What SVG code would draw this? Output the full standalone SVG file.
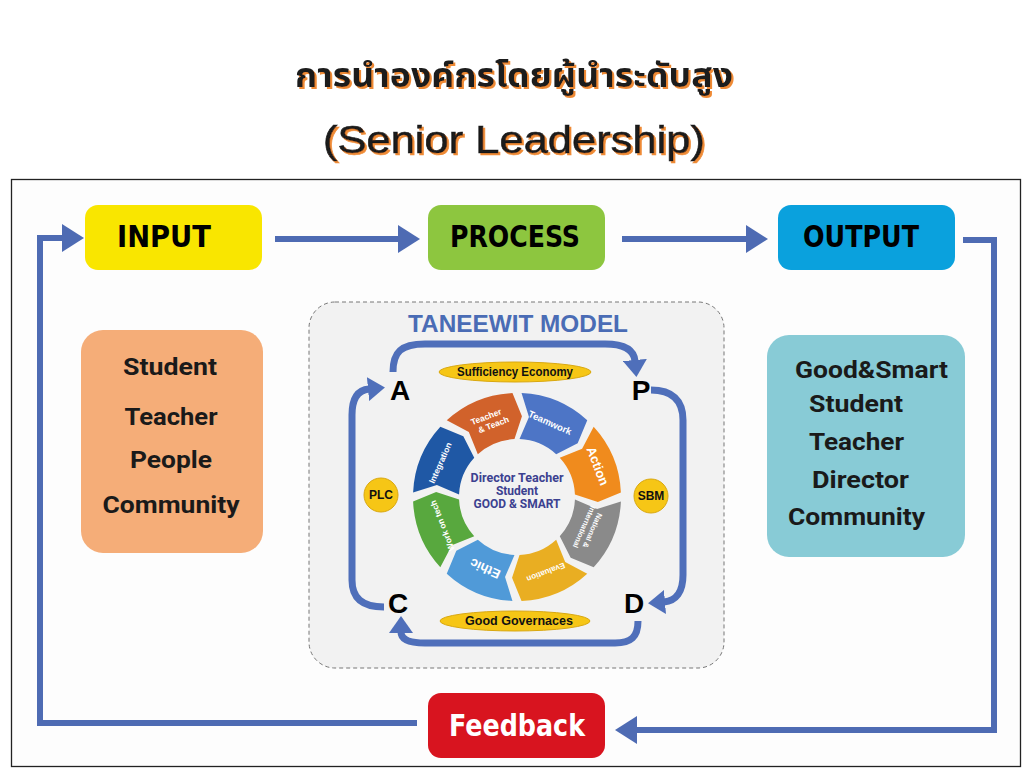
<svg xmlns="http://www.w3.org/2000/svg" width="1024" height="768" viewBox="0 0 1024 768">
<style>
.title{fill:#1a1a1a;filter:url(#sh)}
.hdr{font-family:"DejaVu Sans Condensed","DejaVu Sans",sans-serif;font-weight:700;font-size:30px;text-anchor:middle}
.lst{font-family:Roboto,"Liberation Sans",sans-serif;font-weight:700;font-size:23px;fill:#1a1a1a}
.conn{fill:none;stroke:#4e6bb3;stroke-width:6}
.pdca{fill:none;stroke:#4f6fba;stroke-width:7}
.let{font-family:"Liberation Sans",Arial,sans-serif;font-weight:700;font-size:28px;fill:#000;text-anchor:middle}
.pill{fill:#f6c616;stroke:#d9a810;stroke-width:1}
.small{font-family:"Liberation Sans",Arial,sans-serif;font-weight:700;font-size:12px;fill:#111;text-anchor:middle}
.seg{font-family:"Liberation Sans",Arial,sans-serif;font-weight:700;fill:#fff;text-anchor:middle}
.ctr{font-family:Roboto,"Liberation Sans",sans-serif;font-weight:700;font-size:12px;fill:#3b4190;text-anchor:middle}
</style>
<defs>
<filter id="sh" x="-5%" y="-20%" width="110%" height="140%">
<feDropShadow dx="2" dy="2" stdDeviation="0.6" flood-color="#ef8a35" flood-opacity="1"/>
</filter>
<marker id="ah" markerUnits="userSpaceOnUse" markerWidth="22" markerHeight="28" refX="1" refY="14" orient="auto">
<path d="M0,0 L22,14 L0,28 Z" fill="#4e6bb3"/>
</marker>
<marker id="ah2" markerUnits="userSpaceOnUse" markerWidth="17" markerHeight="24" refX="1" refY="12" orient="auto">
<path d="M0,0 L17,12 L0,24 Z" fill="#4f6fba"/>
</marker>
<path id="segshape" d="M103.90,4.54 A104,104 0 0 1 76.68,70.26 L53.67,60.67 L42.76,39.18 A58,58 0 0 0 57.94,2.53 L80.11,11.97 Z"/>
</defs>

<rect width="1024" height="768" fill="#ffffff"/>

<g id="title">
<text class="title" x="514" y="87" text-anchor="middle" font-size="34" font-weight="700" textLength="438" lengthAdjust="spacingAndGlyphs" font-family="'Noto Sans Thai','Noto Serif Thai',Loma,Garuda,'Tlwg Typo','DejaVu Sans',sans-serif">การนำองค์กรโดยผู้นำระดับสูง</text>
<text class="title" x="514" y="153" text-anchor="middle" font-size="39" textLength="382" lengthAdjust="spacingAndGlyphs" font-family="'Liberation Sans',Arial,sans-serif" style="font-weight:400;stroke:#1a1a1a;stroke-width:0.6">(Senior Leadership)</text>
</g>

<rect id="frame" x="11.5" y="179.5" width="1009" height="587" fill="#fdfdfd" stroke="#222" stroke-width="1.3"/>

<g id="connectors">
<path class="conn" d="M275,239 H399" marker-end="url(#ah)"/>
<path class="conn" d="M622,239 H747" marker-end="url(#ah)"/>
<path class="conn" d="M963,240 H994 V730 H636" marker-end="url(#ah)"/>
<path class="conn" d="M417,723 H40 V238 H63" marker-end="url(#ah)"/>
</g>

<g id="input">
<rect x="85" y="205" width="177" height="65" rx="13" fill="#f9e600"/>
<text class="hdr" x="164" y="247" textLength="94" lengthAdjust="spacingAndGlyphs">INPUT</text>
</g>
<g id="process">
<rect x="428" y="205" width="177" height="65" rx="13" fill="#8dc63f"/>
<text class="hdr" x="515" y="247" textLength="130" lengthAdjust="spacingAndGlyphs">PROCESS</text>
</g>
<g id="output">
<rect x="778" y="205" width="177" height="65" rx="13" fill="#0aa1dd"/>
<text class="hdr" x="861" y="247" textLength="116" lengthAdjust="spacingAndGlyphs">OUTPUT</text>
</g>
<g id="feedback">
<rect x="428" y="693" width="177" height="65" rx="13" fill="#d8141f"/>
<text class="hdr" x="517" y="736" fill="#fff" font-size="32" textLength="136" lengthAdjust="spacingAndGlyphs">Feedback</text>
</g>

<g id="inputs-list">
<rect x="81" y="330" width="182" height="223" rx="22" fill="#f5ad78"/>
<text class="lst" x="170" y="375" text-anchor="middle" textLength="94" lengthAdjust="spacingAndGlyphs">Student</text>
<text class="lst" x="171" y="425" text-anchor="middle" textLength="93" lengthAdjust="spacingAndGlyphs">Teacher</text>
<text class="lst" x="171" y="468" text-anchor="middle" textLength="82" lengthAdjust="spacingAndGlyphs">People</text>
<text class="lst" x="171" y="513" text-anchor="middle" textLength="137" lengthAdjust="spacingAndGlyphs">Community</text>
</g>

<g id="outputs-list">
<rect x="767" y="335" width="198" height="222" rx="22" fill="#88cbd6"/>
<text class="lst" x="795" y="378" textLength="153" lengthAdjust="spacingAndGlyphs">Good&amp;Smart</text>
<text class="lst" x="809" y="412" textLength="94" lengthAdjust="spacingAndGlyphs">Student</text>
<text class="lst" x="809" y="450" textLength="95" lengthAdjust="spacingAndGlyphs">Teacher</text>
<text class="lst" x="812" y="488" textLength="97" lengthAdjust="spacingAndGlyphs">Director</text>
<text class="lst" x="788" y="525" textLength="137" lengthAdjust="spacingAndGlyphs">Community</text>
</g>

<g id="taneewit-model">
<rect x="309" y="302" width="415" height="366" rx="26" fill="#f2f2f2" stroke="#777" stroke-width="1" stroke-dasharray="4 3"/>
<text x="518" y="332" font-family="'Liberation Sans',Arial,sans-serif" font-weight="700" font-size="23" fill="#4a6cb5" text-anchor="middle" textLength="220" lengthAdjust="spacingAndGlyphs">TANEEWIT MODEL</text>
</g>

<g id="pdca-arrows">
<path class="pdca" d="M393,372 C393,352 401,344 425,344 L605,344 C624,344 634,350 635,361" marker-end="url(#ah2)"/>
<path class="pdca" d="M651,390 C672,390 683,400 683,420 L683,575 C683,592 676,601 664,602" marker-end="url(#ah2)"/>
<path class="pdca" d="M638,621 C638,637 631,643 615,643 L425,643 C409,643 401,640 401,632" marker-end="url(#ah2)"/>
<path class="pdca" d="M384,607 C362,607 352,598 352,580 L352,415 C352,398 358,390 369,389" marker-end="url(#ah2)"/>
</g>

<g id="A"><text class="let" x="400" y="400">A</text></g>
<g id="P"><text class="let" x="641" y="400">P</text></g>
<g id="D"><text class="let" x="634" y="613">D</text></g>
<g id="C"><text class="let" x="398" y="613">C</text></g>

<g id="sufficiency-economy">
<ellipse class="pill" cx="515" cy="372" rx="76" ry="10"/>
<text class="small" x="515" y="376" textLength="116" lengthAdjust="spacingAndGlyphs">Sufficiency Economy</text>
</g>
<g id="good-governaces">
<ellipse class="pill" cx="515" cy="621" rx="75" ry="10"/>
<text class="small" x="519" y="625" textLength="108" lengthAdjust="spacingAndGlyphs">Good Governaces</text>
</g>
<g id="plc">
<circle class="pill" cx="381" cy="495" r="17"/>
<text class="small" x="381" y="499">PLC</text>
</g>
<g id="sbm">
<circle class="pill" cx="651" cy="496" r="17"/>
<text class="small" x="651" y="500">SBM</text>
</g>

<g id="wheel" transform="translate(517 497)">
<use href="#segshape" transform="rotate(0)" fill="#8a8a8a"/>
<use href="#segshape" transform="rotate(45)" fill="#e9ae22"/>
<use href="#segshape" transform="rotate(90)" fill="#509ad8"/>
<use href="#segshape" transform="rotate(135)" fill="#58a83e"/>
<use href="#segshape" transform="rotate(180)" fill="#1f58a5"/>
<use href="#segshape" transform="rotate(225)" fill="#d1622b"/>
<use href="#segshape" transform="rotate(270)" fill="#4d75c6"/>
<use href="#segshape" transform="rotate(315)" fill="#f08b1d"/>
<g transform="rotate(114)"><text class="seg" y="-79" font-size="7.5"><tspan x="0" dy="-1">National &amp;</tspan><tspan x="0" dy="9">International</tspan></text></g>
<g transform="rotate(159)"><text class="seg" x="0" y="-78" font-size="8">Evaluation</text></g>
<g transform="rotate(204)"><text class="seg" x="0" y="-74" font-size="13">Ethic</text></g>
<g transform="rotate(249)"><text class="seg" x="0" y="-77" font-size="8.5">Work on tech</text></g>
<g transform="rotate(294)"><text class="seg" x="0" y="-81" font-size="8.5">Integration</text></g>
<g transform="rotate(339)"><text class="seg" y="-82" font-size="8.5"><tspan x="0" dy="-1">Teacher</tspan><tspan x="4" dy="10">&amp; Teach</tspan></text></g>
<g transform="rotate(24)"><text class="seg" x="0" y="-78" font-size="9.5">Teamwork</text></g>
<g transform="rotate(69)"><text class="seg" x="0" y="-82" font-size="13">Action</text></g>
<text class="ctr" x="0" y="-15" textLength="93" lengthAdjust="spacingAndGlyphs">Director Teacher</text>
<text class="ctr" x="0" y="-2">Student</text>
<text class="ctr" x="0" y="11" textLength="87" lengthAdjust="spacingAndGlyphs">GOOD &amp; SMART</text>
</g>
</svg>
